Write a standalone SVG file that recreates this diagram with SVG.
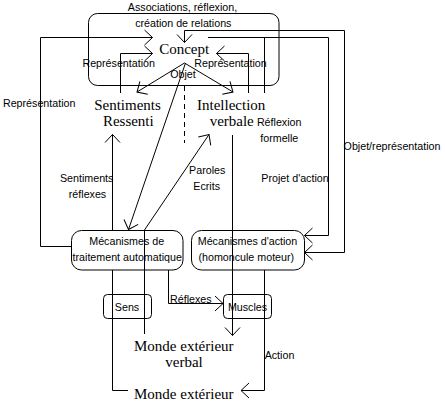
<svg xmlns="http://www.w3.org/2000/svg" width="445" height="404" viewBox="0 0 445 404">
<style>
.bx{fill:none;stroke:#000;stroke-width:1}
.ln{fill:none;stroke:#000;stroke-width:1}
.dash{stroke-dasharray:5,4}
.lb{font-family:"Liberation Sans",Arial,sans-serif;font-size:10.7px;fill:#000;text-anchor:middle}
.sf{font-family:"Liberation Serif","Times New Roman",serif;font-size:15px;fill:#000;text-anchor:middle}
</style>
<defs>
<marker id="ah" markerUnits="userSpaceOnUse" markerWidth="20" markerHeight="20" viewBox="-10 -10 20 20" refX="0" refY="0" orient="auto-start-reverse">
<path d="M-8,-7.5 L0,0 L-8,7.5" fill="none" stroke="#000" stroke-width="1"/>
</marker>
</defs>
<rect width="445" height="404" fill="#fff"/>

<g id="concept">
<rect class="bx" x="88.5" y="13.5" width="190.5" height="72" rx="9"/>
<text class="lb" x="182.5" y="11">Associations, réflexion,</text>
<text class="lb" x="183.3" y="26.5">création de relations</text>
<text class="sf" x="184.2" y="53.5">Concept</text>
</g>
<g id="sentiments">
<text class="sf" x="127.5" y="110">Sentiments</text>
<text class="sf" x="128.3" y="126">Ressenti</text>
</g>
<g id="intellection">
<text class="sf" x="231.2" y="110">Intellection</text>
<text class="sf" x="231.7" y="126">verbale</text>
</g>
<g id="mecanismes-traitement">
<rect class="bx" x="71.5" y="230.5" width="111.5" height="39.5" rx="10"/>
<text class="lb" x="126.7" y="245.3">Mécanismes de</text>
<text class="lb" x="127.2" y="261">traitement automatique</text>
</g>
<g id="mecanismes-action">
<rect class="bx" x="191.5" y="230.5" width="113" height="39.5" rx="10"/>
<text class="lb" x="247.5" y="245.3">Mécanismes d'action</text>
<text class="lb" x="246.3" y="261">(homoncule moteur)</text>
</g>
<g id="sens">
<rect class="bx" x="103.5" y="294.5" width="48" height="24" rx="4"/>
<text class="lb" x="127" y="310.5">Sens</text>
</g>
<g id="muscles">
<rect class="bx" x="223.5" y="294.5" width="48" height="24" rx="4"/>
<text class="lb" x="247.5" y="310.5">Muscles</text>
</g>
<g id="monde-verbal">
<text class="sf" x="183.8" y="351">Monde extérieur</text>
<text class="sf" x="184" y="366.5">verbal</text>
</g>
<g id="monde">
<text class="sf" x="183.8" y="399">Monde extérieur</text>
</g>

<g id="connectors">
<path class="ln" d="M72,246.5 H40.5 V37.5 H152.5" marker-end="url(#ah)"/>
<path class="ln" d="M120.5,93 V53.5 H152.5" marker-end="url(#ah)"/>
<path class="ln" d="M248.5,93 V53.5 H216.5" marker-end="url(#ah)"/>
<path class="ln" d="M208,37.5 H328.5 V235.5 H304.5" marker-end="url(#ah)"/>
<path class="ln" d="M264.5,93 V37.5"/>
<path class="ln" d="M184.5,42.5 V30.5 H344.5 V252.5 H304.5" marker-start="url(#ah)" marker-end="url(#ah)"/>
<path class="ln" d="M184.5,63 L137,92" marker-end="url(#ah)"/>
<path class="ln" d="M184.5,63 L233,92" marker-end="url(#ah)"/>
<path class="ln" d="M185.5,63 L128.5,229.5" marker-end="url(#ah)"/>
<path class="ln dash" d="M184.5,86 V143"/>
<path class="ln" d="M232.5,135 V335.5" marker-end="url(#ah)"/>
<path class="ln" d="M112.5,230 V134.5" marker-end="url(#ah)"/>
<path class="ln" d="M128,390.5 H112.5 V270"/>
<path class="ln" d="M144.5,334 V230 L209,134.5" marker-end="url(#ah)"/>
<path class="ln" d="M168.5,270 V303.5 H223" marker-end="url(#ah)"/>
<path class="ln" d="M264.5,270 V390.5 H241" marker-end="url(#ah)"/>
<text class="lb" x="39.2" y="106.5">Représentation</text>
<text class="lb" x="118.7" y="66.5">Représentation</text>
<text class="lb" x="230.5" y="66.5">Représentation</text>
<text class="lb" x="183" y="77.5">Objet</text>
<text class="lb" x="279.2" y="125.5">Réflexion</text>
<text class="lb" x="279.3" y="141.5">formelle</text>
<text class="lb" x="392" y="150">Objet/représentation</text>
<text class="lb" x="295" y="182">Projet d'action</text>
<text class="lb" x="86.7" y="182.3">Sentiments</text>
<text class="lb" x="87.5" y="197.7">réflexes</text>
<text class="lb" x="207.2" y="174">Paroles</text>
<text class="lb" x="206.7" y="189.7">Ecrits</text>
<text class="lb" x="190.8" y="302.5">Réflexes</text>
<text class="lb" x="279.5" y="359">Action</text>
</g>
</svg>
